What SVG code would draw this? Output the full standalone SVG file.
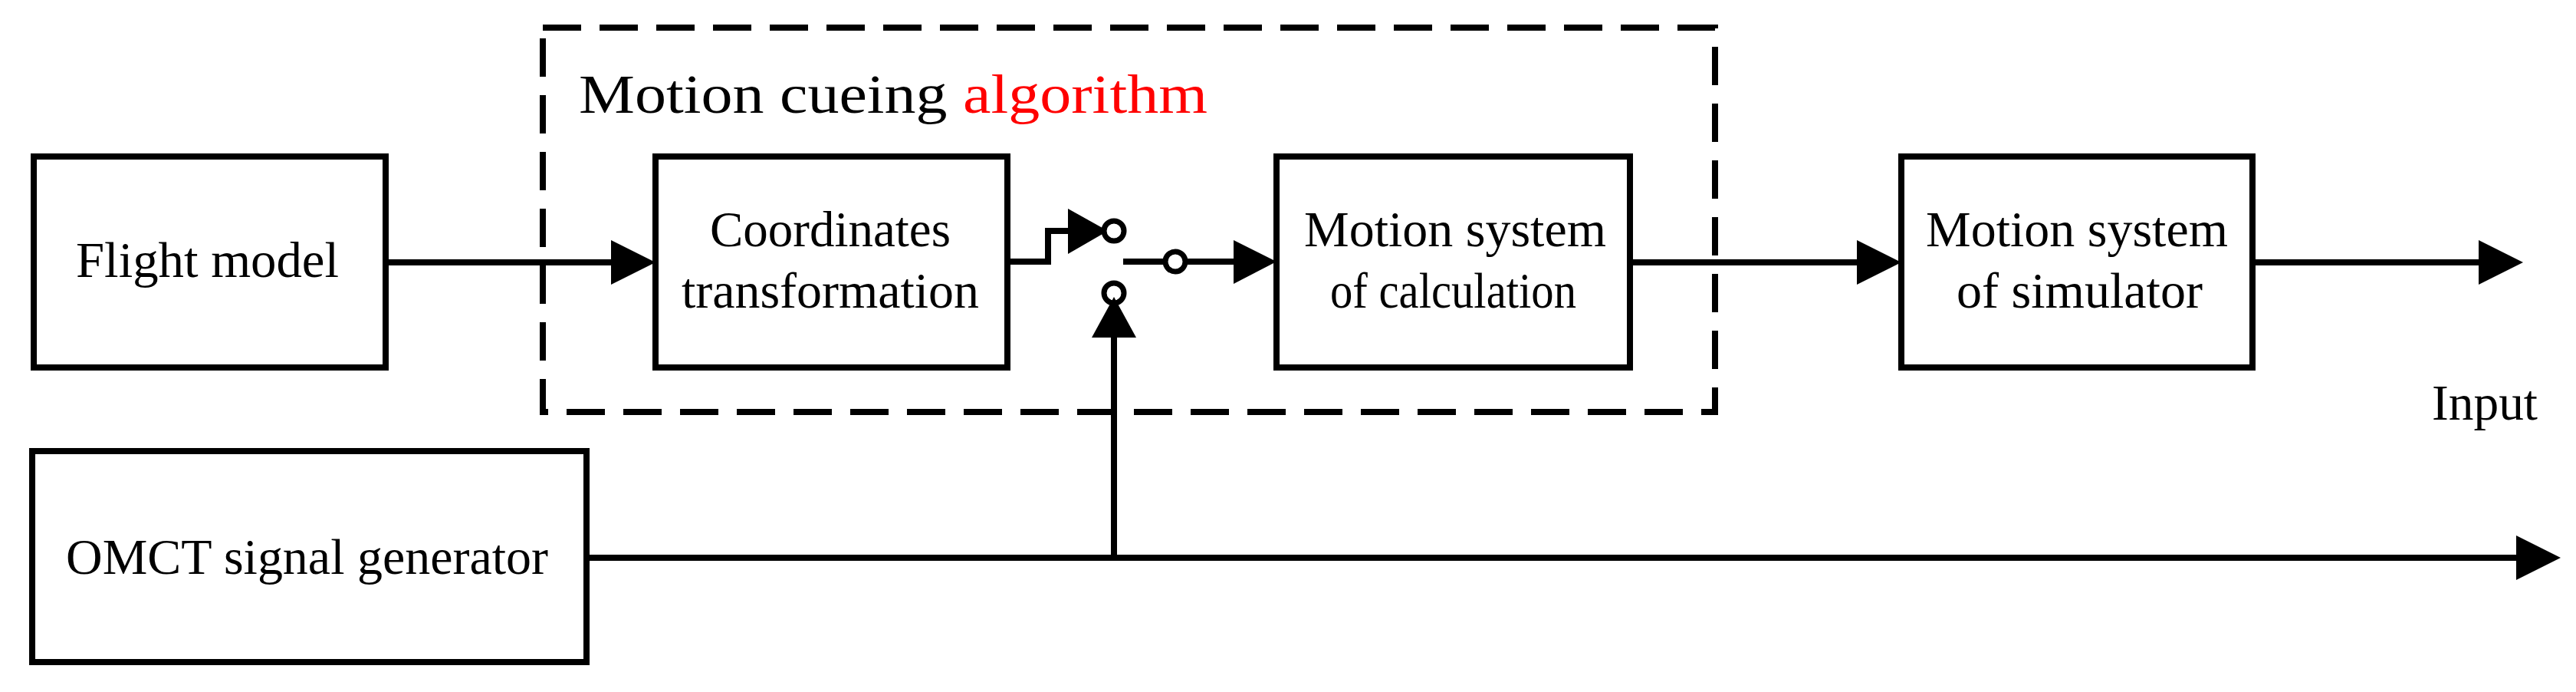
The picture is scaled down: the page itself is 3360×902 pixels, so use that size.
<svg xmlns="http://www.w3.org/2000/svg" width="3360" height="902" viewBox="0 0 3360 902">
<style>
.box{fill:#fff;stroke:#000;stroke-width:8}
.ln{fill:none;stroke:#000;stroke-width:8}
.t{font-family:"Liberation Serif","Times New Roman",serif;font-size:66px;fill:#000}
.ah{fill:#000}
.c{fill:#fff;stroke:#000;stroke-width:7}
</style>
<rect x="708" y="36" width="1529" height="501" fill="none" stroke="#000" stroke-width="8" stroke-dasharray="50 24"/>
<text class="t" x="755" y="147" style="font-size:72px" textLength="820" lengthAdjust="spacingAndGlyphs">Motion cueing <tspan fill="#ff0000">algorithm</tspan></text>
<g id="flight"><rect class="box" x="44" y="204" width="459" height="275"/><text class="t" x="99" y="361" textLength="343" lengthAdjust="spacingAndGlyphs">Flight model</text></g>
<g id="coord"><rect class="box" x="855" y="204" width="459" height="275"/><text class="t" x="926" y="321" textLength="314" lengthAdjust="spacingAndGlyphs">Coordinates</text><text class="t" x="889" y="401" textLength="388" lengthAdjust="spacingAndGlyphs">transformation</text></g>
<g id="calc"><rect class="box" x="1665" y="204" width="461" height="275"/><text class="t" x="1701" y="321" textLength="394" lengthAdjust="spacingAndGlyphs">Motion system</text><text class="t" x="1735" y="401" textLength="321" lengthAdjust="spacingAndGlyphs">of calculation</text></g>
<g id="sim"><rect class="box" x="2480" y="204" width="458" height="275"/><text class="t" x="2512" y="321" textLength="394" lengthAdjust="spacingAndGlyphs">Motion system</text><text class="t" x="2552" y="401" textLength="321" lengthAdjust="spacingAndGlyphs">of simulator</text></g>
<g id="omct"><rect class="box" x="42" y="588" width="723" height="275"/><text class="t" x="86" y="748" textLength="629" lengthAdjust="spacingAndGlyphs">OMCT signal generator</text></g>
<text class="t" x="3172" y="547" textLength="138" lengthAdjust="spacingAndGlyphs">Input</text>
<g id="connectors">
<path class="ln" d="M503 342H800"/><path class="ah" d="M797 313L855 342L797 371Z"/>
<path class="ln" d="M1314 341H1367V301H1395"/><path class="ah" d="M1393 272L1445 301L1393 331Z"/>
<circle class="c" cx="1453" cy="301" r="13"/>
<path class="ln" d="M1465 341H1612"/><path class="ah" d="M1609 313L1665 341L1609 370Z"/>
<circle class="c" cx="1533" cy="341" r="13"/>
<circle class="c" cx="1453" cy="382" r="13"/>
<path class="ln" d="M765 727H3285"/><path class="ah" d="M3282 698L3340 727L3282 756Z"/>
<path class="ln" d="M1453 727V438"/><path class="ah" d="M1424 440L1453 387L1482 440Z"/>
<path class="ln" d="M2126 342H2424"/><path class="ah" d="M2422 313L2480 342L2422 371Z"/>
<path class="ln" d="M2938 342H3235"/><path class="ah" d="M3233 313L3291 342L3233 371Z"/>
</g>
</svg>
